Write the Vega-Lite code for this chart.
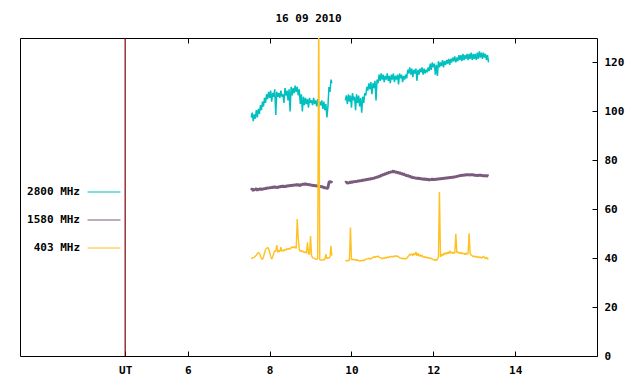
{
"$schema":"https://vega.github.io/schema/vega-lite/v6.json",
"width":577,"height":318,
"autosize":"none",
"padding":{"left":20,"top":38,"right":43,"bottom":28},
"background":"white",
"title":{"text":"16 09 2010","font":"DejaVu Sans Mono","fontSize":11,"fontWeight":"bold","color":"black","anchor":"middle","frame":"group","offset":13},
"config":{"view":{"stroke":"black","strokeWidth":1},
"axis":{"grid":false,"domain":false,"labelFont":"DejaVu Sans Mono","labelFontSize":11,"labelFontWeight":"bold","labelColor":"black","tickColor":"black","title":null},
"legend":{"labelFont":"DejaVu Sans Mono","labelFontSize":11,"labelFontWeight":"bold","labelColor":"black"}},
"datasets":{
"ut":[{"t":4.47}],
"obs":[
{"t":7.55,"s":1,"f2800":97.5,"f1580":67.8,"f403":39.8},
{"t":7.575,"s":1,"f2800":99.5,"f1580":68.5,"f403":40.0},
{"t":7.6,"s":1,"f2800":96.0,"f1580":67.5,"f403":40.2},
{"t":7.625,"s":1,"f2800":98.8,"f1580":68.2,"f403":40.3},
{"t":7.65,"s":1,"f2800":97.0,"f1580":67.9,"f403":40.8},
{"t":7.675,"s":1,"f2800":100.5,"f1580":68.6,"f403":41.2},
{"t":7.7,"s":1,"f2800":97.5,"f1580":67.6,"f403":41.8},
{"t":7.725,"s":1,"f2800":101.0,"f1580":68.4,"f403":42.3},
{"t":7.75,"s":1,"f2800":99.0,"f1580":68.0,"f403":42.0},
{"t":7.775,"s":1,"f2800":102.5,"f1580":68.6,"f403":41.0},
{"t":7.8,"s":1,"f2800":100.5,"f1580":67.8,"f403":39.8},
{"t":7.825,"s":1,"f2800":104.0,"f1580":68.5,"f403":39.5},
{"t":7.85,"s":1,"f2800":102.0,"f1580":68.1,"f403":40.5},
{"t":7.875,"s":1,"f2800":105.5,"f1580":68.7,"f403":42.0},
{"t":7.9,"s":1,"f2800":103.5,"f1580":68.2,"f403":43.5},
{"t":7.925,"s":1,"f2800":107.0,"f1580":68.9,"f403":44.0},
{"t":7.95,"s":1,"f2800":105.0,"f1580":68.4,"f403":44.3},
{"t":7.975,"s":1,"f2800":108.0,"f1580":69.0,"f403":44.0},
{"t":8.0,"s":1,"f2800":105.5,"f1580":68.5,"f403":42.5},
{"t":8.025,"s":1,"f2800":108.5,"f1580":69.1,"f403":40.8},
{"t":8.05,"s":1,"f2800":104.0,"f1580":68.6,"f403":39.6},
{"t":8.075,"s":1,"f2800":107.5,"f1580":69.3,"f403":40.5},
{"t":8.1,"s":1,"f2800":106.0,"f1580":68.7,"f403":42.0},
{"t":8.125,"s":1,"f2800":109.0,"f1580":69.4,"f403":43.0},
{"t":8.15,"s":1,"f2800":98.5,"f1580":68.8,"f403":42.8},
{"t":8.175,"s":1,"f2800":108.0,"f1580":69.2,"f403":45.3},
{"t":8.2,"s":1,"f2800":106.0,"f1580":68.6,"f403":42.4},
{"t":8.225,"s":1,"f2800":107.5,"f1580":69.5,"f403":43.2},
{"t":8.25,"s":1,"f2800":105.5,"f1580":68.9,"f403":42.6},
{"t":8.275,"s":1,"f2800":108.5,"f1580":69.6,"f403":44.5},
{"t":8.3,"s":1,"f2800":106.0,"f1580":69.0,"f403":42.8},
{"t":8.325,"s":1,"f2800":107.0,"f1580":69.7,"f403":43.4},
{"t":8.35,"s":1,"f2800":103.5,"f1580":69.1,"f403":42.9},
{"t":8.375,"s":1,"f2800":109.5,"f1580":69.5,"f403":43.6},
{"t":8.4,"s":1,"f2800":106.5,"f1580":69.0,"f403":43.3},
{"t":8.425,"s":1,"f2800":108.5,"f1580":69.8,"f403":43.9},
{"t":8.45,"s":1,"f2800":104.5,"f1580":69.3,"f403":43.5},
{"t":8.475,"s":1,"f2800":109.0,"f1580":69.9,"f403":44.0},
{"t":8.5,"s":1,"f2800":100.0,"f1580":69.4,"f403":43.7},
{"t":8.525,"s":1,"f2800":110.0,"f1580":70.0,"f403":44.3},
{"t":8.55,"s":1,"f2800":106.5,"f1580":69.5,"f403":44.6},
{"t":8.575,"s":1,"f2800":109.5,"f1580":70.1,"f403":44.2},
{"t":8.6,"s":1,"f2800":107.5,"f1580":69.6,"f403":44.8},
{"t":8.625,"s":1,"f2800":110.5,"f1580":70.2,"f403":44.4},
{"t":8.65,"s":1,"f2800":108.0,"f1580":69.7,"f403":44.0},
{"t":8.675,"s":1,"f2800":110.0,"f1580":70.3,"f403":56.0},
{"t":8.7,"s":1,"f2800":106.5,"f1580":69.8,"f403":48.0},
{"t":8.725,"s":1,"f2800":109.0,"f1580":70.0,"f403":43.5},
{"t":8.75,"s":1,"f2800":103.0,"f1580":69.5,"f403":42.8},
{"t":8.775,"s":1,"f2800":107.0,"f1580":70.4,"f403":43.2},
{"t":8.8,"s":1,"f2800":100.0,"f1580":69.9,"f403":42.5},
{"t":8.825,"s":1,"f2800":106.0,"f1580":70.5,"f403":42.8},
{"t":8.85,"s":1,"f2800":102.5,"f1580":70.0,"f403":42.3},
{"t":8.875,"s":1,"f2800":105.5,"f1580":70.6,"f403":42.6},
{"t":8.9,"s":1,"f2800":103.0,"f1580":70.1,"f403":42.0},
{"t":8.925,"s":1,"f2800":105.0,"f1580":70.4,"f403":46.5},
{"t":8.95,"s":1,"f2800":101.5,"f1580":69.8,"f403":41.8},
{"t":8.975,"s":1,"f2800":105.5,"f1580":70.3,"f403":41.5},
{"t":9.0,"s":1,"f2800":103.5,"f1580":69.7,"f403":49.0},
{"t":9.025,"s":1,"f2800":104.5,"f1580":70.1,"f403":41.0},
{"t":9.05,"s":1,"f2800":102.5,"f1580":69.5,"f403":40.2},
{"t":9.075,"s":1,"f2800":105.5,"f1580":70.0,"f403":40.0},
{"t":9.1,"s":1,"f2800":103.0,"f1580":69.4,"f403":39.8},
{"t":9.125,"s":1,"f2800":104.5,"f1580":69.9,"f403":39.6},
{"t":9.15,"s":1,"f2800":102.0,"f1580":69.3,"f403":39.5},
{"t":9.175,"s":1,"f2800":105.0,"f1580":69.8,"f403":39.8},
{"t":9.2,"s":1,"f2800":101.5,"f1580":69.1,"f403":140.0},
{"t":9.225,"s":1,"f2800":104.0,"f1580":69.6,"f403":39.4},
{"t":9.25,"s":1,"f2800":102.5,"f1580":69.0,"f403":39.2},
{"t":9.275,"s":1,"f2800":104.5,"f1580":69.5,"f403":39.3},
{"t":9.3,"s":1,"f2800":101.0,"f1580":68.8,"f403":39.2},
{"t":9.325,"s":1,"f2800":104.0,"f1580":69.2,"f403":39.5},
{"t":9.35,"s":1,"f2800":100.5,"f1580":68.5,"f403":39.4},
{"t":9.375,"s":1,"f2800":103.0,"f1580":69.0,"f403":41.6},
{"t":9.4,"s":1,"f2800":97.5,"f1580":68.4,"f403":39.8},
{"t":9.425,"s":1,"f2800":102.0,"f1580":68.8,"f403":40.2},
{"t":9.45,"s":1,"f2800":110.0,"f1580":71.0,"f403":40.0},
{"t":9.475,"s":1,"f2800":108.0,"f1580":71.5,"f403":40.5},
{"t":9.5,"s":1,"f2800":113.0,"f1580":70.8,"f403":45.0},
{"t":9.52,"s":1,"f2800":111.5,"f1580":71.6,"f403":41.0},
{"t":9.85,"s":2,"f2800":104.5,"f1580":70.8,"f403":38.9},
{"t":9.875,"s":2,"f2800":106.5,"f1580":71.2,"f403":39.0},
{"t":9.9,"s":2,"f2800":103.0,"f1580":70.5,"f403":38.8},
{"t":9.925,"s":2,"f2800":107.0,"f1580":71.0,"f403":39.2},
{"t":9.95,"s":2,"f2800":104.0,"f1580":70.6,"f403":39.0},
{"t":9.975,"s":2,"f2800":106.5,"f1580":71.3,"f403":52.5},
{"t":10.0,"s":2,"f2800":101.5,"f1580":70.7,"f403":39.5},
{"t":10.025,"s":2,"f2800":107.5,"f1580":71.5,"f403":39.3},
{"t":10.05,"s":2,"f2800":104.5,"f1580":70.9,"f403":39.6},
{"t":10.075,"s":2,"f2800":106.0,"f1580":71.6,"f403":39.2},
{"t":10.1,"s":2,"f2800":100.5,"f1580":71.0,"f403":39.4},
{"t":10.125,"s":2,"f2800":107.0,"f1580":71.7,"f403":39.1},
{"t":10.15,"s":2,"f2800":103.5,"f1580":71.2,"f403":39.3},
{"t":10.175,"s":2,"f2800":106.5,"f1580":71.9,"f403":39.0},
{"t":10.2,"s":2,"f2800":102.0,"f1580":71.3,"f403":38.8},
{"t":10.225,"s":2,"f2800":105.5,"f1580":72.0,"f403":39.0},
{"t":10.25,"s":2,"f2800":99.5,"f1580":71.5,"f403":38.9},
{"t":10.275,"s":2,"f2800":106.0,"f1580":72.1,"f403":39.2},
{"t":10.3,"s":2,"f2800":103.5,"f1580":71.6,"f403":39.0},
{"t":10.325,"s":2,"f2800":107.5,"f1580":72.3,"f403":39.3},
{"t":10.35,"s":2,"f2800":106.5,"f1580":71.8,"f403":39.5},
{"t":10.375,"s":2,"f2800":110.0,"f1580":72.4,"f403":39.7},
{"t":10.4,"s":2,"f2800":108.5,"f1580":71.9,"f403":39.8},
{"t":10.425,"s":2,"f2800":111.5,"f1580":72.6,"f403":40.0},
{"t":10.45,"s":2,"f2800":109.0,"f1580":72.1,"f403":39.6},
{"t":10.475,"s":2,"f2800":112.0,"f1580":72.7,"f403":39.9},
{"t":10.5,"s":2,"f2800":107.0,"f1580":72.2,"f403":39.8},
{"t":10.525,"s":2,"f2800":111.5,"f1580":72.9,"f403":40.3},
{"t":10.55,"s":2,"f2800":109.5,"f1580":72.5,"f403":40.6},
{"t":10.575,"s":2,"f2800":112.5,"f1580":73.1,"f403":40.2},
{"t":10.6,"s":2,"f2800":104.5,"f1580":72.8,"f403":40.8},
{"t":10.625,"s":2,"f2800":113.0,"f1580":73.4,"f403":40.5},
{"t":10.65,"s":2,"f2800":111.5,"f1580":73.0,"f403":40.9},
{"t":10.675,"s":2,"f2800":115.0,"f1580":73.7,"f403":40.4},
{"t":10.7,"s":2,"f2800":112.5,"f1580":73.3,"f403":40.2},
{"t":10.725,"s":2,"f2800":115.5,"f1580":74.0,"f403":40.0},
{"t":10.75,"s":2,"f2800":113.0,"f1580":73.7,"f403":39.8},
{"t":10.775,"s":2,"f2800":115.0,"f1580":74.4,"f403":40.1},
{"t":10.8,"s":2,"f2800":112.0,"f1580":74.0,"f403":39.9},
{"t":10.825,"s":2,"f2800":114.5,"f1580":74.7,"f403":40.3},
{"t":10.85,"s":2,"f2800":113.0,"f1580":74.3,"f403":40.0},
{"t":10.875,"s":2,"f2800":115.5,"f1580":75.0,"f403":40.5},
{"t":10.9,"s":2,"f2800":112.5,"f1580":74.6,"f403":40.2},
{"t":10.925,"s":2,"f2800":114.5,"f1580":75.3,"f403":40.6},
{"t":10.95,"s":2,"f2800":111.5,"f1580":74.9,"f403":40.4},
{"t":10.975,"s":2,"f2800":115.0,"f1580":75.5,"f403":40.8},
{"t":11.0,"s":2,"f2800":113.0,"f1580":75.1,"f403":40.5},
{"t":11.025,"s":2,"f2800":115.5,"f1580":75.8,"f403":40.9},
{"t":11.05,"s":2,"f2800":112.0,"f1580":75.0,"f403":40.6},
{"t":11.075,"s":2,"f2800":114.5,"f1580":75.6,"f403":41.0},
{"t":11.1,"s":2,"f2800":113.0,"f1580":74.8,"f403":40.7},
{"t":11.125,"s":2,"f2800":115.0,"f1580":75.4,"f403":40.9},
{"t":11.15,"s":2,"f2800":111.0,"f1580":74.6,"f403":40.5},
{"t":11.175,"s":2,"f2800":115.5,"f1580":75.1,"f403":40.2},
{"t":11.2,"s":2,"f2800":113.5,"f1580":74.4,"f403":40.0},
{"t":11.225,"s":2,"f2800":115.0,"f1580":74.9,"f403":39.8},
{"t":11.25,"s":2,"f2800":112.0,"f1580":74.1,"f403":40.0},
{"t":11.275,"s":2,"f2800":114.5,"f1580":74.6,"f403":39.7},
{"t":11.3,"s":2,"f2800":113.0,"f1580":73.8,"f403":39.9},
{"t":11.325,"s":2,"f2800":115.0,"f1580":74.2,"f403":39.6},
{"t":11.35,"s":2,"f2800":113.5,"f1580":73.5,"f403":40.0},
{"t":11.375,"s":2,"f2800":117.0,"f1580":74.0,"f403":40.5},
{"t":11.4,"s":2,"f2800":115.5,"f1580":73.2,"f403":41.0},
{"t":11.425,"s":2,"f2800":118.0,"f1580":73.7,"f403":41.6},
{"t":11.45,"s":2,"f2800":115.0,"f1580":72.9,"f403":41.2},
{"t":11.475,"s":2,"f2800":117.5,"f1580":73.4,"f403":41.8},
{"t":11.5,"s":2,"f2800":114.0,"f1580":72.7,"f403":41.0},
{"t":11.525,"s":2,"f2800":117.0,"f1580":73.2,"f403":42.0},
{"t":11.55,"s":2,"f2800":115.5,"f1580":72.5,"f403":41.3},
{"t":11.575,"s":2,"f2800":117.5,"f1580":73.0,"f403":42.5},
{"t":11.6,"s":2,"f2800":112.5,"f1580":72.4,"f403":41.0},
{"t":11.625,"s":2,"f2800":117.0,"f1580":72.9,"f403":42.0},
{"t":11.65,"s":2,"f2800":115.0,"f1580":72.3,"f403":40.8},
{"t":11.675,"s":2,"f2800":117.5,"f1580":72.8,"f403":41.5},
{"t":11.7,"s":2,"f2800":116.0,"f1580":72.2,"f403":40.6},
{"t":11.725,"s":2,"f2800":118.0,"f1580":72.7,"f403":41.2},
{"t":11.75,"s":2,"f2800":115.0,"f1580":72.0,"f403":40.5},
{"t":11.775,"s":2,"f2800":117.5,"f1580":72.6,"f403":40.3},
{"t":11.8,"s":2,"f2800":115.5,"f1580":72.0,"f403":40.6},
{"t":11.825,"s":2,"f2800":117.0,"f1580":72.5,"f403":40.2},
{"t":11.85,"s":2,"f2800":116.0,"f1580":71.9,"f403":40.4},
{"t":11.875,"s":2,"f2800":118.0,"f1580":72.4,"f403":40.0},
{"t":11.9,"s":2,"f2800":116.5,"f1580":71.8,"f403":40.2},
{"t":11.925,"s":2,"f2800":119.5,"f1580":72.3,"f403":39.8},
{"t":11.95,"s":2,"f2800":117.0,"f1580":72.0,"f403":40.0},
{"t":11.975,"s":2,"f2800":120.0,"f1580":72.5,"f403":39.6},
{"t":12.0,"s":2,"f2800":118.0,"f1580":71.9,"f403":39.4},
{"t":12.025,"s":2,"f2800":119.5,"f1580":72.4,"f403":39.2},
{"t":12.05,"s":2,"f2800":115.0,"f1580":72.0,"f403":39.5},
{"t":12.075,"s":2,"f2800":119.0,"f1580":72.5,"f403":39.0},
{"t":12.1,"s":2,"f2800":114.5,"f1580":72.1,"f403":39.8},
{"t":12.125,"s":2,"f2800":120.5,"f1580":72.6,"f403":40.2},
{"t":12.15,"s":2,"f2800":118.0,"f1580":72.2,"f403":67.0},
{"t":12.175,"s":2,"f2800":120.0,"f1580":72.7,"f403":40.5},
{"t":12.2,"s":2,"f2800":118.5,"f1580":72.3,"f403":41.5},
{"t":12.225,"s":2,"f2800":121.0,"f1580":72.8,"f403":41.0},
{"t":12.25,"s":2,"f2800":118.0,"f1580":72.4,"f403":42.0},
{"t":12.275,"s":2,"f2800":120.5,"f1580":72.9,"f403":41.4},
{"t":12.3,"s":2,"f2800":119.0,"f1580":72.5,"f403":42.3},
{"t":12.325,"s":2,"f2800":121.0,"f1580":73.0,"f403":41.6},
{"t":12.35,"s":2,"f2800":119.5,"f1580":72.6,"f403":42.5},
{"t":12.375,"s":2,"f2800":121.5,"f1580":73.1,"f403":41.8},
{"t":12.4,"s":2,"f2800":119.0,"f1580":72.7,"f403":43.0},
{"t":12.425,"s":2,"f2800":121.5,"f1580":73.2,"f403":42.0},
{"t":12.45,"s":2,"f2800":120.0,"f1580":72.8,"f403":42.6},
{"t":12.475,"s":2,"f2800":122.0,"f1580":73.3,"f403":41.9},
{"t":12.5,"s":2,"f2800":120.5,"f1580":72.9,"f403":42.4},
{"t":12.525,"s":2,"f2800":122.5,"f1580":73.5,"f403":42.0},
{"t":12.55,"s":2,"f2800":120.0,"f1580":73.1,"f403":50.0},
{"t":12.575,"s":2,"f2800":122.0,"f1580":73.7,"f403":42.2},
{"t":12.6,"s":2,"f2800":120.5,"f1580":73.3,"f403":42.6},
{"t":12.625,"s":2,"f2800":123.0,"f1580":73.9,"f403":42.0},
{"t":12.65,"s":2,"f2800":121.0,"f1580":73.5,"f403":42.4},
{"t":12.675,"s":2,"f2800":123.0,"f1580":74.0,"f403":41.8},
{"t":12.7,"s":2,"f2800":120.5,"f1580":73.6,"f403":42.3},
{"t":12.725,"s":2,"f2800":123.5,"f1580":74.1,"f403":41.7},
{"t":12.75,"s":2,"f2800":121.0,"f1580":73.7,"f403":42.0},
{"t":12.775,"s":2,"f2800":123.0,"f1580":74.2,"f403":41.5},
{"t":12.8,"s":2,"f2800":121.5,"f1580":73.8,"f403":42.1},
{"t":12.825,"s":2,"f2800":123.5,"f1580":74.3,"f403":41.6},
{"t":12.85,"s":2,"f2800":121.0,"f1580":73.9,"f403":42.0},
{"t":12.875,"s":2,"f2800":123.5,"f1580":74.2,"f403":50.2},
{"t":12.9,"s":2,"f2800":121.5,"f1580":73.8,"f403":41.8},
{"t":12.925,"s":2,"f2800":124.0,"f1580":74.3,"f403":41.2},
{"t":12.95,"s":2,"f2800":121.0,"f1580":73.9,"f403":41.0},
{"t":12.975,"s":2,"f2800":123.5,"f1580":74.2,"f403":40.6},
{"t":13.0,"s":2,"f2800":121.5,"f1580":73.7,"f403":40.9},
{"t":13.025,"s":2,"f2800":123.5,"f1580":74.1,"f403":40.4},
{"t":13.05,"s":2,"f2800":121.0,"f1580":73.6,"f403":40.8},
{"t":13.075,"s":2,"f2800":124.0,"f1580":74.0,"f403":40.3},
{"t":13.1,"s":2,"f2800":121.5,"f1580":73.6,"f403":40.6},
{"t":13.125,"s":2,"f2800":124.5,"f1580":74.1,"f403":40.2},
{"t":13.15,"s":2,"f2800":122.0,"f1580":73.7,"f403":40.5},
{"t":13.175,"s":2,"f2800":124.0,"f1580":74.0,"f403":40.0},
{"t":13.2,"s":2,"f2800":121.5,"f1580":73.5,"f403":40.3},
{"t":13.225,"s":2,"f2800":124.0,"f1580":73.9,"f403":40.8},
{"t":13.25,"s":2,"f2800":122.0,"f1580":73.5,"f403":40.2},
{"t":13.275,"s":2,"f2800":123.5,"f1580":73.9,"f403":39.8},
{"t":13.3,"s":2,"f2800":121.0,"f1580":73.4,"f403":40.4},
{"t":13.325,"s":2,"f2800":123.0,"f1580":73.8,"f403":39.6},
{"t":13.35,"s":2,"f2800":120.0,"f1580":73.6,"f403":39.8}
]},
"resolve":{"axis":{"x":"independent"}},
"layer":[
{"data":{"name":"ut"},
"mark":{"type":"rule","color":"#800000","strokeWidth":1.2},
"encoding":{"x":{"field":"t","type":"quantitative","scale":{"domain":[1.9,16],"nice":false,"zero":false},
"axis":{"orient":"top","values":[6,8,10,12,14],"labels":false,"tickSize":-5,"ticks":true}}}},
{"data":{"name":"obs"},
"transform":[{"fold":["f2800","f1580","f403"],"as":["band","v"]}],
"encoding":{
"x":{"field":"t","type":"quantitative","scale":{"domain":[1.9,16],"nice":false,"zero":false},
"axis":{"orient":"bottom","values":[4.47,6,8,10,12,14],"tickSize":-5,"labelPadding":13,"labelExpr":"datum.value < 5 ? 'UT' : datum.label"}},
"y":{"field":"v","type":"quantitative","scale":{"domain":[0,130],"nice":false},
"axis":{"orient":"right","values":[0,20,40,60,80,100,120],"tickSize":-5,"labelPadding":12}},
"color":{"field":"band","type":"nominal",
"scale":{"domain":["f2800","f1580","f403"],"range":["#00c0c0","#7b5b7b","#ffc020"]},
"legend":{"orient":"none","legendX":67,"legendY":137,"title":null,"symbolType":"stroke","symbolSize":1089,"symbolStrokeWidth":1,"labelAlign":"right","labelOffset":-41,"rowPadding":6,
"labelExpr":"slice(datum.value,1) + ' MHz'",
"encode":{"symbols":{"update":{"strokeWidth":{"value":1}}}}}},
"detail":{"field":"s","type":"nominal"}
},
"layer":[
{"transform":[{"filter":"datum.band == 'f2800'"}],"mark":{"type":"line","clip":true,"strokeWidth":1.5,"strokeJoin":"bevel"}},
{"transform":[{"filter":"datum.band == 'f1580'"}],"mark":{"type":"line","clip":true,"strokeWidth":2.8,"strokeJoin":"bevel"}},
{"transform":[{"filter":"datum.band == 'f403'"}],"mark":{"type":"line","clip":true,"strokeWidth":1.4,"strokeJoin":"bevel"}}
]}
]
}
